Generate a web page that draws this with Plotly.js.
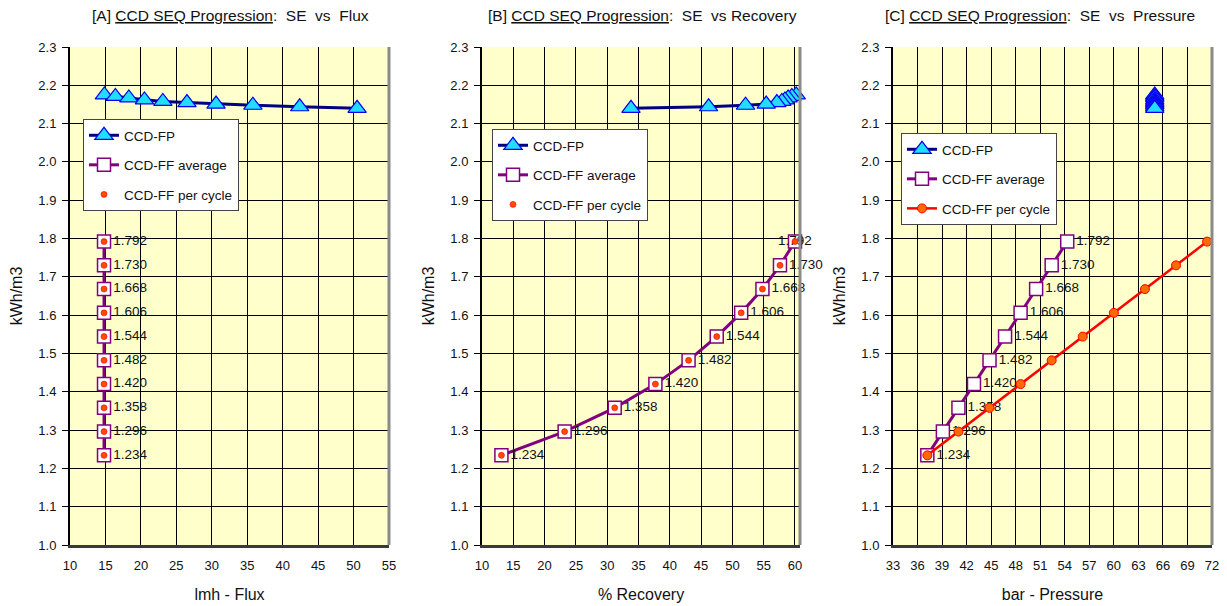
<!DOCTYPE html>
<html>
<head>
<meta charset="utf-8">
<script src="https://cdn.plot.ly/plotly-3.0.1.min.js"></script>
<style>html,body{margin:0;padding:0;background:#fff;}#chart{width:1227px;height:606px;}</style>
</head>
<body>
<div id="chart"></div>
<script>
// ---- Data ----
// CCD-FP series
const fpFlux     = [14.85, 16.4, 18.3, 20.5, 23.1, 26.5, 30.6, 35.8, 42.4, 50.5];
const fpRecovery = [60.2, 59.5, 58.9, 58.4, 57.9, 57.1, 55.4, 52.1, 46.2, 33.8];
const fpPressure = [65.0, 65.0, 65.0, 65.0, 65.0, 65.0, 65.0, 65.0, 65.0, 65.0];
const fpSE       = [2.175, 2.171, 2.167, 2.162, 2.158, 2.155, 2.151, 2.148, 2.144, 2.140];

// CCD-FF series
const ffSE            = [1.234, 1.296, 1.358, 1.420, 1.482, 1.544, 1.606, 1.668, 1.730, 1.792];
const ffLabels        = ["1.234", "1.296", "1.358", "1.420", "1.482", "1.544", "1.606", "1.668", "1.730", "1.792"];
const ffFlux          = [14.8, 14.8, 14.8, 14.8, 14.8, 14.8, 14.8, 14.8, 14.8, 14.8];
const ffRecovery      = [13.1, 23.2, 31.2, 37.7, 43.0, 47.5, 51.4, 54.8, 57.6, 60.0];
const ffAvgPressure   = [37.2, 39.1, 41.0, 42.9, 44.8, 46.7, 48.6, 50.5, 52.4, 54.3];
const ffCyclePressure = [37.2, 41.0, 44.8, 48.6, 52.4, 56.2, 60.0, 63.8, 67.6, 71.4];

const panelTitles = [
  "[A] <u>CCD SEQ Progression</u>:&nbsp; SE &nbsp;vs &nbsp;Flux",
  "[B] <u>CCD SEQ Progression</u>:&nbsp; SE &nbsp;vs Recovery",
  "[C] <u>CCD SEQ Progression</u>:&nbsp; SE &nbsp;vs &nbsp;Pressure"
];
const xTitles = ["lmh - Flux", "% Recovery", "bar - Pressure"];
const yTitle = "kWh/m3";
const seriesNames = ["CCD-FP", "CCD-FF average", "CCD-FF per cycle"];

// ---- Styling ----
const FONT = "'Liberation Sans', Arial, sans-serif";
const W = 1227, H = 606;
const yDom = [1 - 545 / H, 1 - 47 / H];

const fpStyle = {
  mode: "lines+markers",
  cliponaxis: false,
  line: {color: "#000080", width: 3},
  marker: {symbol: "triangle-up", size: 16, color: "#22DDFF", line: {color: "#0000EE", width: 1.2}}
};
const avgStyle = {
  mode: "lines+markers+text",
  cliponaxis: false,
  line: {color: "#800080", width: 3},
  marker: {symbol: "square", size: 13, color: "#FFFFFF", line: {color: "#800080", width: 1.5}},
  textposition: "middle right",
  textfont: {family: FONT, size: 13.5, color: "#111"}
};
const dotStyle = {
  mode: "markers",
  cliponaxis: false,
  marker: {symbol: "circle", size: 6, color: "#FF4A00", line: {color: "#FF0000", width: 0.6}}
};
const cycleStyleC = {
  mode: "lines+markers",
  cliponaxis: false,
  line: {color: "#FF0000", width: 2.5},
  marker: {symbol: "circle", size: 9, color: "#FF6A00", line: {color: "#FF0000", width: 1}}
};

function tr(base, extra) { return Object.assign({}, JSON.parse(JSON.stringify(base)), extra); }

const legendNames = ["legend", "legend2", "legend3"];
const xs = ["x", "x2", "x3"], ys = ["y", "y2", "y3"];
const fpX = [fpFlux, fpRecovery, fpPressure];
const avgX = [ffFlux, ffRecovery, ffAvgPressure];
const cycX = [ffFlux, ffRecovery, ffCyclePressure];
// label placement: in panel B the top label sits centred on its point
const labelPosB = ffLabels.map((_, k) => k === ffLabels.length - 1 ? "middle center" : "middle right");

const data = [];
for (let i = 0; i < 3; i++) {
  data.push(tr(fpStyle, {x: fpX[i], y: fpSE, name: seriesNames[0], xaxis: xs[i], yaxis: ys[i], legend: legendNames[i], legendgroup: "g" + i + "a", hoverinfo: "x+y"}));
  const avg = tr(avgStyle, {x: avgX[i], y: ffSE, text: ffLabels, name: seriesNames[1], xaxis: xs[i], yaxis: ys[i], legend: legendNames[i], legendgroup: "g" + i + "b", hoverinfo: "x+y"});
  if (i === 1) avg.textposition = labelPosB;
  data.push(avg);
  data.push(tr(i === 2 ? cycleStyleC : dotStyle, {x: cycX[i], y: ffSE, name: seriesNames[2], xaxis: xs[i], yaxis: ys[i], legend: legendNames[i], legendgroup: "g" + i + "c", hoverinfo: "x+y"}));
}

const xDoms = [[70 / W, 389 / W], [482 / W, 800 / W], [893 / W, 1212 / W]];
const xRanges = [[10, 55], [10, 60.8], [33, 72]];
const xDticks = [5, 5, 3];
const xTick0 = [10, 10, 33];

function xaxisDef(i) {
  return {
    domain: xDoms[i], range: xRanges[i], dtick: xDticks[i], tick0: xTick0[i],
    anchor: ys[i], showgrid: true, gridcolor: "#000000", gridwidth: 1,
    zeroline: false, showline: true, linecolor: "#3a3a3a", linewidth: 3,
    ticks: "", ticklabelstandoff: 6,
    tickfont: {family: FONT, size: 13, color: "#111"},
    title: {text: xTitles[i], font: {family: FONT, size: 16, color: "#111"}, standoff: 18},
    fixedrange: true
  };
}
function yaxisDef(i) {
  return {
    domain: yDom, range: [1.0, 2.3], dtick: 0.1, tick0: 1.0, tickformat: ".1f",
    anchor: xs[i], showgrid: true, gridcolor: "#000000", gridwidth: 1,
    zeroline: false, showline: true, linecolor: "#000000", linewidth: 2,
    ticks: "outside", ticklen: 6, tickcolor: "#000", ticklabelstandoff: 3,
    tickfont: {family: FONT, size: 13, color: "#111"},
    title: {text: yTitle, font: {family: FONT, size: 16, color: "#111"}, standoff: 12},
    fixedrange: true
  };
}

const legendPos = [[83, 119], [492, 129], [901, 133]];
function legendDef(i) {
  return {
    x: legendPos[i][0] / W, y: 1 - legendPos[i][1] / H, xanchor: "left", yanchor: "top",
    bgcolor: "#FFFFFF", bordercolor: "#444444", borderwidth: 1,
    font: {family: FONT, size: 13.5, color: "#111"},
    traceorder: "grouped", tracegroupgap: 9, itemwidth: 30
  };
}

const titleCenters = [230, 642, 1040];
const annotations = panelTitles.map((t, i) => ({
  text: t, xref: "paper", yref: "paper", x: titleCenters[i] / W, y: 1 - 16 / H,
  xanchor: "center", yanchor: "middle", showarrow: false,
  font: {family: FONT, size: 15.5, color: "#111"}
}));

const shapes = [];
for (let i = 0; i < 3; i++) {
  const xr = xs[i] + " domain", yr = ys[i] + " domain";
  shapes.push({type: "line", xref: xr, yref: yr, x0: 1, x1: 1, y0: 0, y1: 1, line: {color: "#8a8a8a", width: 3}});
}

const layout = {
  width: W, height: H,
  margin: {l: 0, r: 0, t: 0, b: 0},
  paper_bgcolor: "#FFFFFF", plot_bgcolor: "#FFFFCC",
  showlegend: true,
  xaxis: xaxisDef(0), xaxis2: xaxisDef(1), xaxis3: xaxisDef(2),
  yaxis: yaxisDef(0), yaxis2: yaxisDef(1), yaxis3: yaxisDef(2),
  legend: legendDef(0), legend2: legendDef(1), legend3: legendDef(2),
  annotations: annotations, shapes: shapes
};

Plotly.newPlot("chart", data, layout, {displayModeBar: false, staticPlot: true});
</script>
</body>
</html>
